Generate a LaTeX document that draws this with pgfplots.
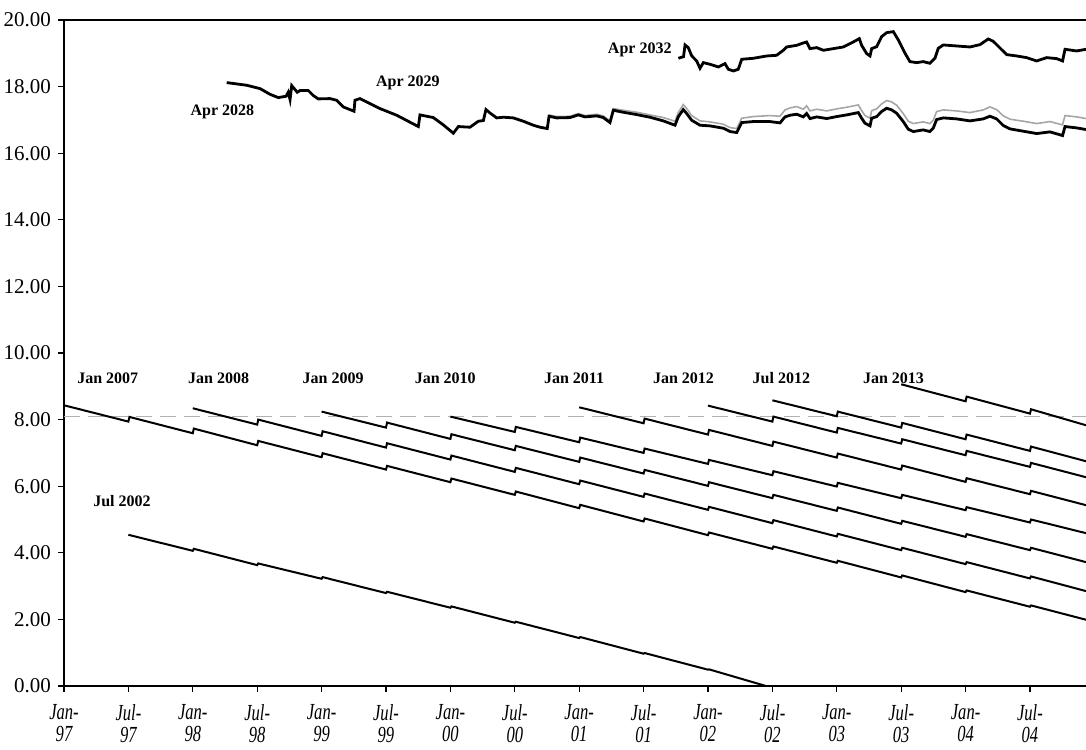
\documentclass[border=0pt]{standalone}
\usepackage{fontspec}
\setmainfont{Liberation Serif}
\usepackage{pgfplots}
\pgfplotsset{compat=1.18}
\usetikzlibrary{calc}
\newcommand{\xl}[2]{\scalebox{0.72}[1]{\begin{tabular}{@{}c@{}}#1\\[0pt]#2\end{tabular}}}
\pgfplotsset{every non boxed y axis/.style={}, every non boxed x axis/.style={}}
\begin{document}
\begin{tikzpicture}
\begin{axis}[
  scale only axis, width=511pt, height=333pt,
  xmin=1997, xmax=2004.935, ymin=0, ymax=20,
  axis x line=box, axis y line=left,
  axis line style={-, line width=0.9pt},
  y axis line style={-},
  tick align=outside, tick pos=left, major tick length=3pt,
  tick style={black, line width=0.6pt},
  xtick={1997,1997.5,1998,1998.5,1999,1999.5,2000,2000.5,2001,2001.5,2002,2002.5,2003,2003.5,2004,2004.5},
  xticklabels={\xl{Jan-}{97},\xl{Jul-}{97},\xl{Jan-}{98},\xl{Jul-}{98},\xl{Jan-}{99},\xl{Jul-}{99},\xl{Jan-}{00},\xl{Jul-}{00},\xl{Jan-}{01},\xl{Jul-}{01},\xl{Jan-}{02},\xl{Jul-}{02},\xl{Jan-}{03},\xl{Jul-}{03},\xl{Jan-}{04},\xl{Jul-}{04}},
  xticklabel style={font=\itshape\fontsize{11.5}{11}\selectfont, yshift=-2.5pt},
  ytick={0,2,4,6,8,10,12,14,16,18,20},
  yticklabel style={font=\fontsize{10.5}{12}\selectfont, /pgf/number format/.cd, fixed, fixed zerofill, precision=2, assume math mode=true},
]
% dashed reference line
\addplot[color=black!30, line width=0.7pt, dash pattern=on 8pt off 4pt] coordinates {(1997,8.1) (2004.935,8.1)};
% gray long bond line
\addplot[color=black!35, line width=0.8pt] coordinates {
(2000.766,17.15) (2000.825,17.10) (2000.929,17.11) (2000.993,17.19) (2001.045,17.13) (2001.136,17.17) (2001.187,17.12) (2001.239,16.97) (2001.265,17.34) (2001.342,17.29) (2001.446,17.23) (2001.550,17.15) (2001.653,17.07) (2001.744,16.96) (2001.769,17.22) (2001.808,17.46) (2001.835,17.34) (2001.873,17.13) (2001.938,16.97) (2002.016,16.94) (2002.119,16.87) (2002.171,16.77) (2002.223,16.74) (2002.262,17.05) (2002.352,17.10) (2002.481,17.13) (2002.559,17.11) (2002.598,17.30) (2002.637,17.36) (2002.689,17.40) (2002.740,17.32) (2002.766,17.42) (2002.792,17.27) (2002.844,17.32) (2002.922,17.27) (2002.999,17.33) (2003.077,17.38) (2003.167,17.45) (2003.193,17.28) (2003.219,17.13) (2003.258,17.05) (2003.271,17.28) (2003.310,17.33) (2003.348,17.48) (2003.387,17.58) (2003.426,17.54) (2003.465,17.44) (2003.516,17.19) (2003.555,16.96) (2003.594,16.89) (2003.671,16.94) (2003.723,16.89) (2003.749,16.99) (2003.775,17.25) (2003.827,17.30) (2003.931,17.27) (2004.034,17.22) (2004.137,17.30) (2004.189,17.39) (2004.241,17.31) (2004.293,17.12) (2004.345,17.02) (2004.448,16.96) (2004.552,16.89) (2004.655,16.95) (2004.753,16.85) (2004.772,17.13) (2004.862,17.09) (2004.935,17.04)};
% black long bond (Apr 2028 / Apr 2029)
\addplot[black, line width=1.4pt] coordinates {
(1998.263,18.12) (1998.419,18.04) (1998.522,17.94) (1998.599,17.77) (1998.664,17.67) (1998.724,17.71) (1998.741,17.83) (1998.755,17.61) (1998.768,18.03) (1998.811,17.83) (1998.832,17.88) (1998.897,17.88) (1998.936,17.73) (1998.974,17.63) (1999.065,17.64) (1999.117,17.59) (1999.168,17.39) (1999.252,17.26) (1999.259,17.59) (1999.298,17.64) (1999.453,17.34) (1999.583,17.14) (1999.751,16.80) (1999.764,17.15) (1999.867,17.07) (1999.945,16.85) (2000.023,16.60) (2000.062,16.80) (2000.152,16.78) (2000.217,16.96) (2000.256,16.98) (2000.276,17.31) (2000.307,17.21) (2000.359,17.06) (2000.411,17.08) (2000.488,17.06) (2000.566,16.96) (2000.644,16.84) (2000.696,16.78) (2000.752,16.74) (2000.766,17.11) (2000.825,17.06) (2000.929,17.07) (2000.993,17.15) (2001.045,17.09) (2001.136,17.12) (2001.187,17.07) (2001.239,16.92) (2001.265,17.29) (2001.342,17.23) (2001.446,17.16) (2001.550,17.08) (2001.653,16.97) (2001.744,16.84) (2001.769,17.09) (2001.808,17.31) (2001.835,17.19) (2001.873,16.99) (2001.938,16.84) (2002.016,16.82) (2002.119,16.75) (2002.171,16.65) (2002.223,16.62) (2002.262,16.92) (2002.352,16.95) (2002.481,16.95) (2002.559,16.91) (2002.598,17.09) (2002.637,17.14) (2002.689,17.17) (2002.740,17.09) (2002.766,17.19) (2002.792,17.04) (2002.844,17.09) (2002.922,17.04) (2002.999,17.10) (2003.077,17.15) (2003.167,17.22) (2003.193,17.05) (2003.219,16.90) (2003.258,16.82) (2003.271,17.05) (2003.310,17.10) (2003.348,17.25) (2003.387,17.35) (2003.426,17.30) (2003.465,17.20) (2003.516,16.95) (2003.555,16.72) (2003.594,16.65) (2003.671,16.70) (2003.723,16.65) (2003.749,16.75) (2003.775,17.01) (2003.827,17.06) (2003.931,17.03) (2004.034,16.97) (2004.137,17.03) (2004.189,17.11) (2004.241,17.03) (2004.293,16.83) (2004.345,16.73) (2004.448,16.66) (2004.552,16.59) (2004.655,16.64) (2004.753,16.53) (2004.772,16.80) (2004.862,16.76) (2004.935,16.71)};
% Apr 2032
\addplot[black, line width=1.4pt] coordinates {
(2001.770,18.85) (2001.810,18.90) (2001.822,19.25) (2001.847,19.17) (2001.874,18.92) (2001.912,18.77) (2001.938,18.55) (2001.964,18.72) (2002.016,18.67) (2002.080,18.59) (2002.132,18.69) (2002.158,18.52) (2002.197,18.47) (2002.235,18.52) (2002.262,18.82) (2002.352,18.85) (2002.456,18.92) (2002.533,18.94) (2002.585,19.09) (2002.611,19.19) (2002.689,19.24) (2002.740,19.31) (2002.766,19.34) (2002.792,19.14) (2002.844,19.17) (2002.896,19.09) (2002.973,19.14) (2003.051,19.19) (2003.128,19.34) (2003.175,19.44) (2003.193,19.24) (2003.232,18.99) (2003.258,18.92) (2003.271,19.14) (2003.310,19.20) (2003.348,19.50) (2003.387,19.62) (2003.439,19.65) (2003.478,19.40) (2003.530,19.00) (2003.568,18.75) (2003.620,18.72) (2003.671,18.75) (2003.723,18.70) (2003.762,18.85) (2003.788,19.15) (2003.827,19.25) (2003.931,19.22) (2004.034,19.19) (2004.112,19.26) (2004.176,19.43) (2004.215,19.36) (2004.267,19.16) (2004.319,18.96) (2004.397,18.92) (2004.474,18.87) (2004.552,18.77) (2004.630,18.87) (2004.707,18.84) (2004.753,18.77) (2004.772,19.12) (2004.862,19.07) (2004.935,19.12)};
% Jul 2002
\addplot[black, line width=1pt] coordinates {
(1997.5,4.54) (1998.0,4.06) (1998.008,4.12) (1998.5,3.63) (1998.508,3.68) (1999.0,3.22) (1999.008,3.27) (1999.5,2.79) (1999.508,2.83) (2000.0,2.35) (2000.008,2.39) (2000.5,1.90) (2000.508,1.93) (2001.0,1.44) (2001.008,1.47) (2001.5,0.97) (2001.508,0.99) (2002.0,0.49) (2002.008,0.50) (2002.45,0.0)};
% Jan 2007
\addplot[black, line width=1pt] coordinates {
(1997.0,8.43) (1997.5,7.94) (1997.508,8.08) (1998.0,7.59) (1998.008,7.73) (1998.5,7.23) (1998.508,7.36) (1999.0,6.87) (1999.008,6.99) (1999.5,6.50) (1999.508,6.61) (2000.0,6.12) (2000.008,6.23) (2000.5,5.74) (2000.508,5.84) (2001.0,5.34) (2001.008,5.44) (2001.5,4.94) (2001.508,5.03) (2002.0,4.53) (2002.008,4.61) (2002.5,4.12) (2002.508,4.19) (2003.0,3.70) (2003.008,3.76) (2003.5,3.26) (2003.508,3.32) (2004.0,2.82) (2004.008,2.87) (2004.5,2.38) (2004.508,2.42) (2004.935,1.99)};
% Jan 2008
\addplot[black, line width=1pt] coordinates {
(1998.0,8.34) (1998.5,7.85) (1998.508,8.00) (1999.0,7.51) (1999.008,7.65) (1999.5,7.16) (1999.508,7.29) (2000.0,6.80) (2000.008,6.92) (2000.5,6.43) (2000.508,6.55) (2001.0,6.06) (2001.008,6.17) (2001.5,5.68) (2001.508,5.78) (2002.0,5.29) (2002.008,5.38) (2002.5,4.89) (2002.508,4.98) (2003.0,4.49) (2003.008,4.57) (2003.5,4.08) (2003.508,4.15) (2004.0,3.66) (2004.008,3.72) (2004.5,3.23) (2004.508,3.29) (2004.935,2.85)};
% Jan 2009
\addplot[black, line width=1pt] coordinates {
(1999.0,8.24) (1999.5,7.76) (1999.508,7.91) (2000.0,7.42) (2000.008,7.56) (2000.5,7.08) (2000.508,7.21) (2001.0,6.73) (2001.008,6.86) (2001.5,6.38) (2001.508,6.49) (2002.0,6.01) (2002.008,6.12) (2002.5,5.64) (2002.508,5.74) (2003.0,5.26) (2003.008,5.36) (2003.5,4.87) (2003.508,4.96) (2004.0,4.48) (2004.008,4.56) (2004.5,4.08) (2004.508,4.15) (2004.935,3.72)};
% Jan 2010
\addplot[black, line width=1pt] coordinates {
(2000.0,8.09) (2000.5,7.63) (2000.508,7.78) (2001.0,7.32) (2001.008,7.46) (2001.5,7.00) (2001.508,7.13) (2002.0,6.67) (2002.008,6.79) (2002.5,6.33) (2002.508,6.45) (2003.0,5.99) (2003.008,6.10) (2003.5,5.64) (2003.508,5.74) (2004.0,5.28) (2004.008,5.37) (2004.5,4.91) (2004.508,5.00) (2004.935,4.59)};
% Jan 2011
\addplot[black, line width=1pt] coordinates {
(2001.0,8.37) (2001.5,7.89) (2001.508,8.03) (2002.0,7.55) (2002.008,7.69) (2002.5,7.21) (2002.508,7.34) (2003.0,6.86) (2003.008,6.98) (2003.5,6.50) (2003.508,6.62) (2004.0,6.13) (2004.008,6.24) (2004.5,5.76) (2004.508,5.86) (2004.935,5.43)};
% Jan 2012
\addplot[black, line width=1pt] coordinates {
(2002.0,8.42) (2002.5,7.94) (2002.508,8.09) (2003.0,7.61) (2003.008,7.75) (2003.5,7.28) (2003.508,7.41) (2004.0,6.93) (2004.008,7.06) (2004.5,6.58) (2004.508,6.70) (2004.935,6.27)};
% Jul 2012
\addplot[black, line width=1pt] coordinates {
(2002.5,8.58) (2003.0,8.10) (2003.008,8.24) (2003.5,7.76) (2003.508,7.90) (2004.0,7.41) (2004.008,7.55) (2004.5,7.06) (2004.508,7.19) (2004.935,6.75)};
% Jan 2013
\addplot[black, line width=1pt] coordinates {
(2003.5,9.06) (2004.0,8.55) (2004.008,8.69) (2004.5,8.18) (2004.508,8.31) (2004.935,7.83)};
% labels
\begin{scope}[every node/.style={font=\bfseries\fontsize{8}{9.6}\selectfont}]
\node at (axis cs:1998.23,17.25) {Apr 2028};
\node at (axis cs:1999.67,18.1) {Apr 2029};
\node at (axis cs:2001.47,19.1) {Apr 2032};
\node at (axis cs:1997.34,9.25) {Jan 2007};
\node at (axis cs:1998.20,9.25) {Jan 2008};
\node at (axis cs:1999.09,9.25) {Jan 2009};
\node at (axis cs:1999.96,9.25) {Jan 2010};
\node at (axis cs:2000.96,9.25) {Jan 2011};
\node at (axis cs:2001.81,9.25) {Jan 2012};
\node at (axis cs:2002.57,9.25) {Jul 2012};
\node at (axis cs:2003.44,9.25) {Jan 2013};
\node at (axis cs:1997.45,5.56) {Jul 2002};
\end{scope}
\end{axis}
\pgfresetboundingbox
\path[use as bounding box] ($(current axis.south west)+(-32pt,-31.5pt)$) rectangle ($(current axis.north east)+(0pt,10pt)$);
\end{tikzpicture}
\end{document}
